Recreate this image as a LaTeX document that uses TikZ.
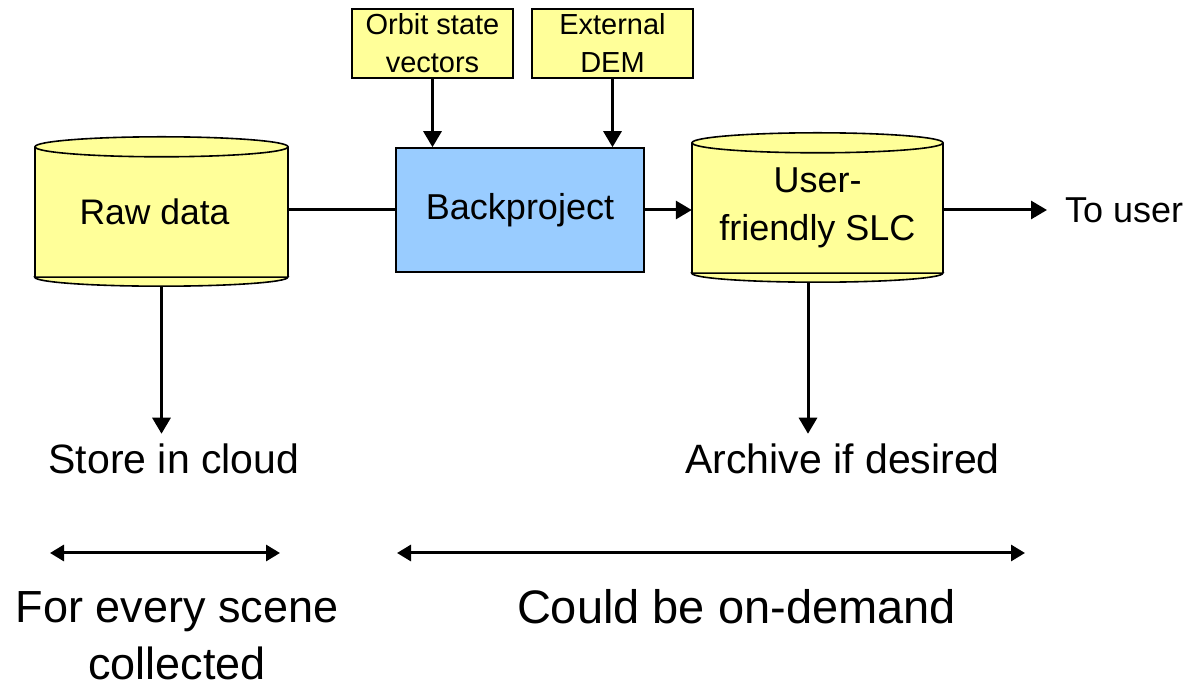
\documentclass[tikz,border=0pt]{standalone}
\usepackage{fontspec}
\setmainfont{Liberation Sans}
\usepackage{xcolor}
\usetikzlibrary{arrows.meta}
\definecolor{boxyellow}{RGB}{255,255,153}
\definecolor{boxblue}{RGB}{153,204,255}

\begin{document}
\begin{tikzpicture}[x=1pt, y=1pt,
    box/.style={draw, line width=1.6pt, align=center, inner sep=0pt},
    dbnode/.style={fill=boxyellow, align=center, inner sep=0pt, minimum height=130pt},
    cylline/.style={line width=1.6pt},
    link/.style={line width=3pt},
    arr/.style={line width=3pt, -{Triangle[length=16pt,width=18pt]}},
    darr/.style={line width=3pt, {Triangle[length=14pt,width=16pt]}-{Triangle[length=14pt,width=16pt]}}]
        \useasboundingbox (0,0) rectangle (1184,688);

        % Inputs
        \node[box, fill=boxyellow, minimum width=161pt, minimum height=69pt,
              font=\fontsize{29}{38}\selectfont] (orbit) at (432.5,644.5) {Orbit state\\vectors};
        \node[box, fill=boxyellow, minimum width=161pt, minimum height=69pt,
              font=\fontsize{29}{38}\selectfont] (dem) at (612.5,644.5) {External\\DEM};

        % Backproject
        \node[box, fill=boxblue, minimum width=248pt, minimum height=124pt,
              font=\fontsize{36}{43}\selectfont] (back) at (520,478) {Backproject};

        % Raw data and SLC stores
        \node[dbnode, minimum width=253pt, font=\fontsize{35.5}{44}\selectfont] (raw) at (161.5,476) {Raw data\hspace*{14pt}};
        \node[dbnode, minimum width=251pt, font=\fontsize{36}{48}\selectfont] (slc) at (817.5,480) {User-\\friendly SLC};
        \foreach \n/\r in {raw/126.5, slc/125.5} {
            \draw[cylline] (\n.north west) -- (\n.south west) (\n.north east) -- (\n.south east);
            \draw[cylline, fill=boxyellow] (\n.south west) arc[start angle=180, end angle=360, x radius=\r, y radius=9] -- cycle;
            \draw[cylline, fill=boxyellow] (\n.north) ellipse[x radius=\r, y radius=10];
        }

        % Outputs
        \node[anchor=west, inner xsep=18pt, inner ysep=0pt, font=\fontsize{36}{43}\selectfont] (touser) at (1047,478) {To user};
        \node[inner sep=10pt, font=\fontsize{41}{49}\selectfont] (store) at (174,229) {Store in cloud};
        \node[inner sep=10pt, font=\fontsize{41}{49}\selectfont] (archive) at (842.5,229) {Archive if desired};

        % Flow
        \draw[arr] (orbit.south) -- (orbit.south |- back.north);
        \draw[arr] (dem.south) -- (dem.south |- back.north);
        \draw[link] (raw.east |- back.west) -- (back.west);
        \draw[arr] (back.east) -- (back.east -| slc.west);
        \draw[arr] (slc.east |- touser.west) -- (touser.west);
        \coordinate (rawout) at ([yshift=-9pt]raw.south);
        \coordinate (slcout) at ([xshift=-9.5pt, yshift=-9pt]slc.south);
        \draw[arr] (rawout) -- (rawout |- store.north);
        \draw[arr] (slcout) -- (slcout |- archive.north);

        % Spans
        \coordinate (sceneL) at (50,135);
        \coordinate (sceneR) at (280,135);
        \coordinate (demandL) at (397,135);
        \coordinate (demandR) at (1025,135);
        \draw[darr] (sceneL) -- (sceneR);
        \draw[darr] (demandL) -- (demandR);
        \node[align=center, font=\fontsize{45}{57}\selectfont] (scene) at (177,52) {For every scene\\collected};
        \node[font=\fontsize{47}{54}\selectfont] (demand) at (736.5,81.5) {Could be on-demand};
    \end{tikzpicture}
\end{document}
